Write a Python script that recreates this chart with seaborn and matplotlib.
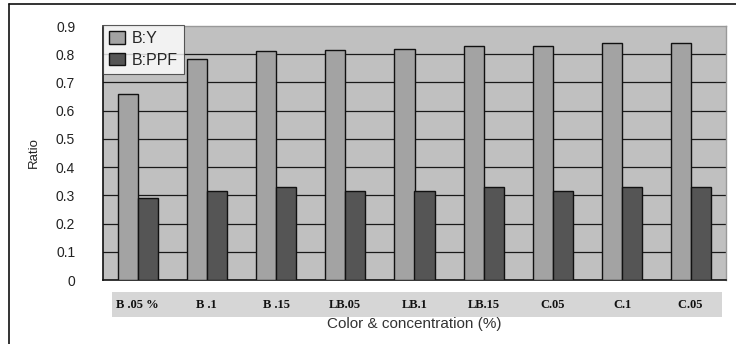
import matplotlib
matplotlib.use("Agg")
import matplotlib.pyplot as plt
import seaborn as sns
import pandas as pd
from matplotlib.patches import Rectangle
from matplotlib.lines import Line2D

categories = ["B .05 %", "B .1", "B .15", "LB.05", "LB.1", "LB.15", "C.05", "C.1", "C.05 "]
series_names = ["B:Y", "B:PPF"]
b_y = [0.658, 0.783, 0.812, 0.816, 0.820, 0.829, 0.829, 0.838, 0.838]
b_ppf = [0.290, 0.317, 0.331, 0.317, 0.317, 0.331, 0.317, 0.331, 0.331]
y_ticks = [0, 0.1, 0.2, 0.3, 0.4, 0.5, 0.6, 0.7, 0.8, 0.9]
y_tick_labels = ["0", "0.1", "0.2", "0.3", "0.4", "0.5", "0.6", "0.7", "0.8", "0.9"]

df = pd.DataFrame({
    "cat": categories * 2,
    "series": [series_names[0]] * len(categories) + [series_names[1]] * len(categories),
    "value": b_y + b_ppf,
})

sns.set_style("white")
plt.rcParams["font.family"] = ["Liberation Sans", "DejaVu Sans"]

fig = plt.figure(figsize=(7.36, 3.44), dpi=100)
ax = fig.add_axes([103 / 736, 1 - 280 / 344, 623 / 736, 254 / 344])
ax.set_facecolor("#c0c0c0")

palette = {series_names[0]: "#a3a3a3", series_names[1]: "#555555"}
sns.barplot(data=df, x="cat", y="value", hue="series", order=categories,
            hue_order=series_names, palette=palette, width=0.58, gap=0,
            edgecolor="#111111", linewidth=1.0, saturation=1, ax=ax, zorder=3,
            legend=True)

ax.set_xlim(-0.5, len(categories) - 0.5)
ax.set_ylim(0, 0.9)
ax.set_yticks(y_ticks)
ax.set_yticklabels(y_tick_labels, fontsize=10, color="#222222")
for y in y_ticks[1:-1]:
    ax.axhline(y, color="#1a1a1a", lw=0.9, zorder=1)

# x ticks at category boundaries (inward), labels at centers
ax.set_xticks([i + 0.5 for i in range(len(categories) - 1)], minor=True)
ax.set_xticks(range(len(categories)))
ax.set_xticklabels(categories, fontfamily="Liberation Serif", fontweight="bold",
                   fontsize=9, color="#111111")
ax.tick_params(axis="x", which="major", length=0, pad=14)
ax.tick_params(axis="x", which="minor", direction="in", length=4, width=0.9, color="#111111")
ax.tick_params(axis="y", direction="in", length=4, width=0.9, color="#111111", pad=20)

for s in ["left", "bottom"]:
    ax.spines[s].set_color("#111111")
    ax.spines[s].set_linewidth(1.2)
for s in ["top", "right"]:
    ax.spines[s].set_color("#999999")
    ax.spines[s].set_linewidth(1.0)
    ax.spines[s].set_visible(True)

# gray band behind x tick labels
band = Rectangle((9 / 623, -37 / 254), (722 - 112) / 623, 25 / 254,
                 transform=ax.transAxes, facecolor="#d6d6d6", edgecolor="none",
                 clip_on=False, zorder=0)
ax.add_patch(band)

ax.set_xlabel("Color & concentration (%)", fontsize=11, color="#333333", va="top")
ax.xaxis.set_label_coords(0.5, -(317 - 280) / 254)
ax.set_ylabel("Ratio", fontsize=9.5, color="#222222")
ax.yaxis.set_label_coords(-63 / 623, 0.5)

leg = ax.legend(loc="upper left", bbox_to_anchor=(0, 1.005), frameon=True, fontsize=11.5,
                handlelength=1.0, handleheight=0.8, handletextpad=0.4,
                borderpad=0.4, labelspacing=0.4, fancybox=False, borderaxespad=0)
leg.get_frame().set_edgecolor("#333333")
leg.get_frame().set_linewidth(0.8)
leg.set_zorder(5)

# outer frame lines (left and top)
fig.add_artist(Line2D([9 / 736, 9 / 736], [0, 1 - 4 / 344], transform=fig.transFigure, color="#111111", lw=1.2))
fig.add_artist(Line2D([9 / 736, 1], [1 - 4 / 344, 1 - 4 / 344], transform=fig.transFigure, color="#111111", lw=1.2))

fig.savefig("out.png", dpi=100)
